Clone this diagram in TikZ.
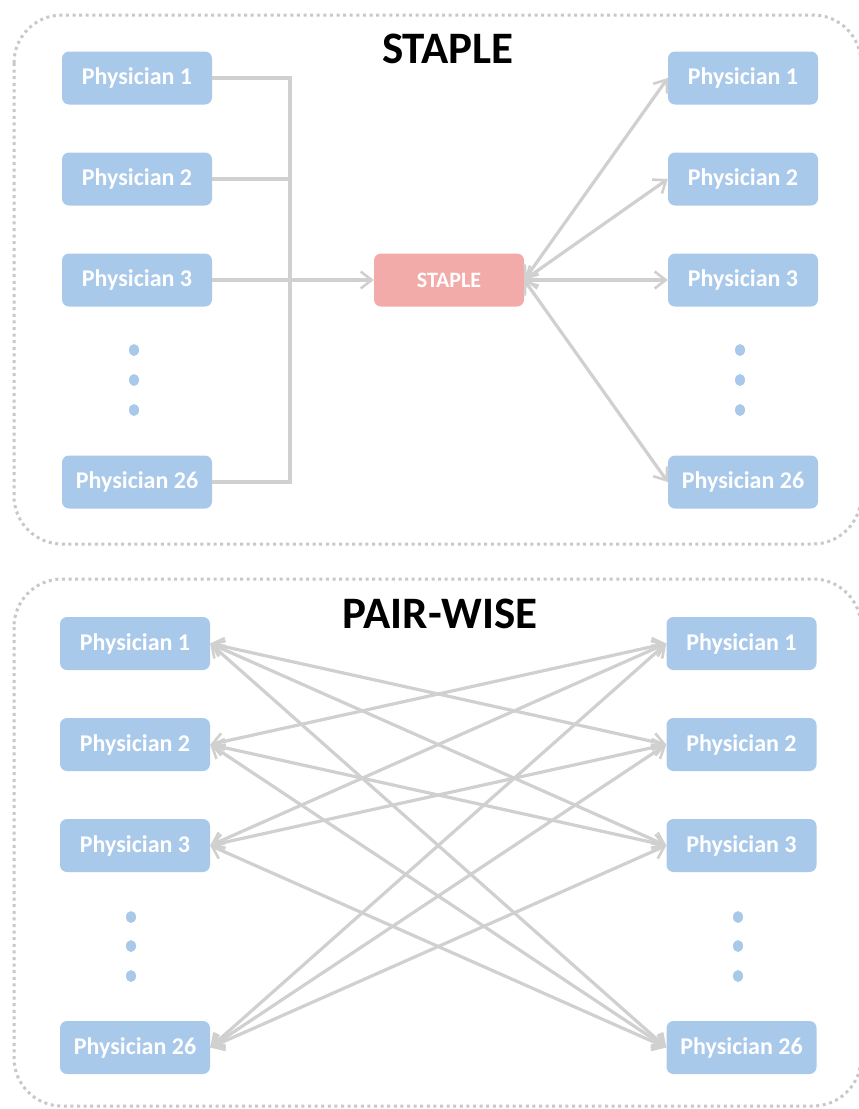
\documentclass[tikz,border=0pt]{standalone}
\usepackage{fontspec}
\setmainfont{Carlito}
\usetikzlibrary{arrows.meta, positioning, calc, shapes.geometric}
\definecolor{docblue}{HTML}{A9C9EB}
\definecolor{stapled}{HTML}{F2ABA9}
\definecolor{wire}{HTML}{D0D0D0}
\definecolor{frame}{HTML}{C8C8C8}
\tikzset{>={Straight Barb[length=11pt, width=17pt, line width=2.6pt]}, font=\bfseries}
\tikzset{doc/.style={shape=rectangle, rounded corners=7pt, fill=docblue, text=white,
    minimum width=150pt, minimum height=53pt, inner sep=0pt, font=\fontsize{24}{24}\bfseries},
  hub/.style={doc, fill=stapled, font=\fontsize{22}{22}\bfseries},
  link/.style={draw=wire, line width=3.2pt},
  vdot/.style={shape=ellipse, fill=docblue, minimum width=10pt, minimum height=12pt, inner sep=0pt},
  panel/.style={draw=frame, line width=3pt, dash pattern=on 3pt off 3.6pt, rounded corners=48pt},
  heading/.style={font=\fontsize{45}{45}\bfseries}}

\begin{document}
\begin{tikzpicture}[x=1pt, y=1pt]
      \useasboundingbox (0,0) rectangle (859,-1109);
      % staple panel
      \begin{scope}
      \draw[panel] (14,-15) rectangle (861,-544);
      \node[heading] (t1) at (448,-49) {STAPLE};
      \node[doc] (a1) at (137,-78) {Physician 1};
      \node[doc] (a2) at (137,-179) {Physician 2};
      \node[doc] (a3) at (137,-280) {Physician 3};
      \node[doc] (a26) at (137,-482) {Physician 26};
      \node[hub] (st) at (449,-280) {STAPLE};
      \node[doc] (b1) at (743,-78) {Physician 1};
      \node[doc] (b2) at (743,-179) {Physician 2};
      \node[doc] (b3) at (743,-280) {Physician 3};
      \node[doc] (b26) at (743,-482) {Physician 26};
      \foreach \k/\yy in {1/350,2/380,3/410} {
        \node[vdot] (ad\k) at (134,-\yy) {};
        \node[vdot] (bd\k) at (740,-\yy) {};
      }
      \coordinate (bus) at (290,-280);
      \draw[link] (a1.east) -| (bus);
      \draw[link] (a26.east) -| (bus);
      \draw[link] (a2.east) -- (a2.east -| bus);
      \draw[link, ->] (a3) -- (st);
      \foreach \n in {1,2,3,26}
        \draw[link, <->] (st.east) -- (b\n.west);
      \end{scope}
      % pair-wise panel
      \begin{scope}
      \draw[panel] (14,-579) rectangle (861,-1106);
      \node[heading] (t2) at (440,-614) {PAIR-WISE};
      \node[doc] (c1) at (135,-643.5) {Physician 1};
      \node[doc] (c2) at (135,-744.5) {Physician 2};
      \node[doc] (c3) at (135,-845.5) {Physician 3};
      \node[doc] (c26) at (135,-1047.5) {Physician 26};
      \node[doc] (d1) at (741.5,-643.5) {Physician 1};
      \node[doc] (d2) at (741.5,-744.5) {Physician 2};
      \node[doc] (d3) at (741.5,-845.5) {Physician 3};
      \node[doc] (d26) at (741.5,-1047.5) {Physician 26};
      \foreach \k/\yy in {1/917,2/946,3/976} {
        \node[vdot] (cd\k) at (131,-\yy) {};
        \node[vdot] (dd\k) at (738,-\yy) {};
      }
      \foreach \i in {1,2,3,26}
        \foreach \j in {1,2,3,26} {
          \ifnum\i=\j\else
            \draw[link, <->] (c\i.east) -- (d\j.west);
          \fi
        }
      \end{scope}
    \end{tikzpicture}
\end{document}
